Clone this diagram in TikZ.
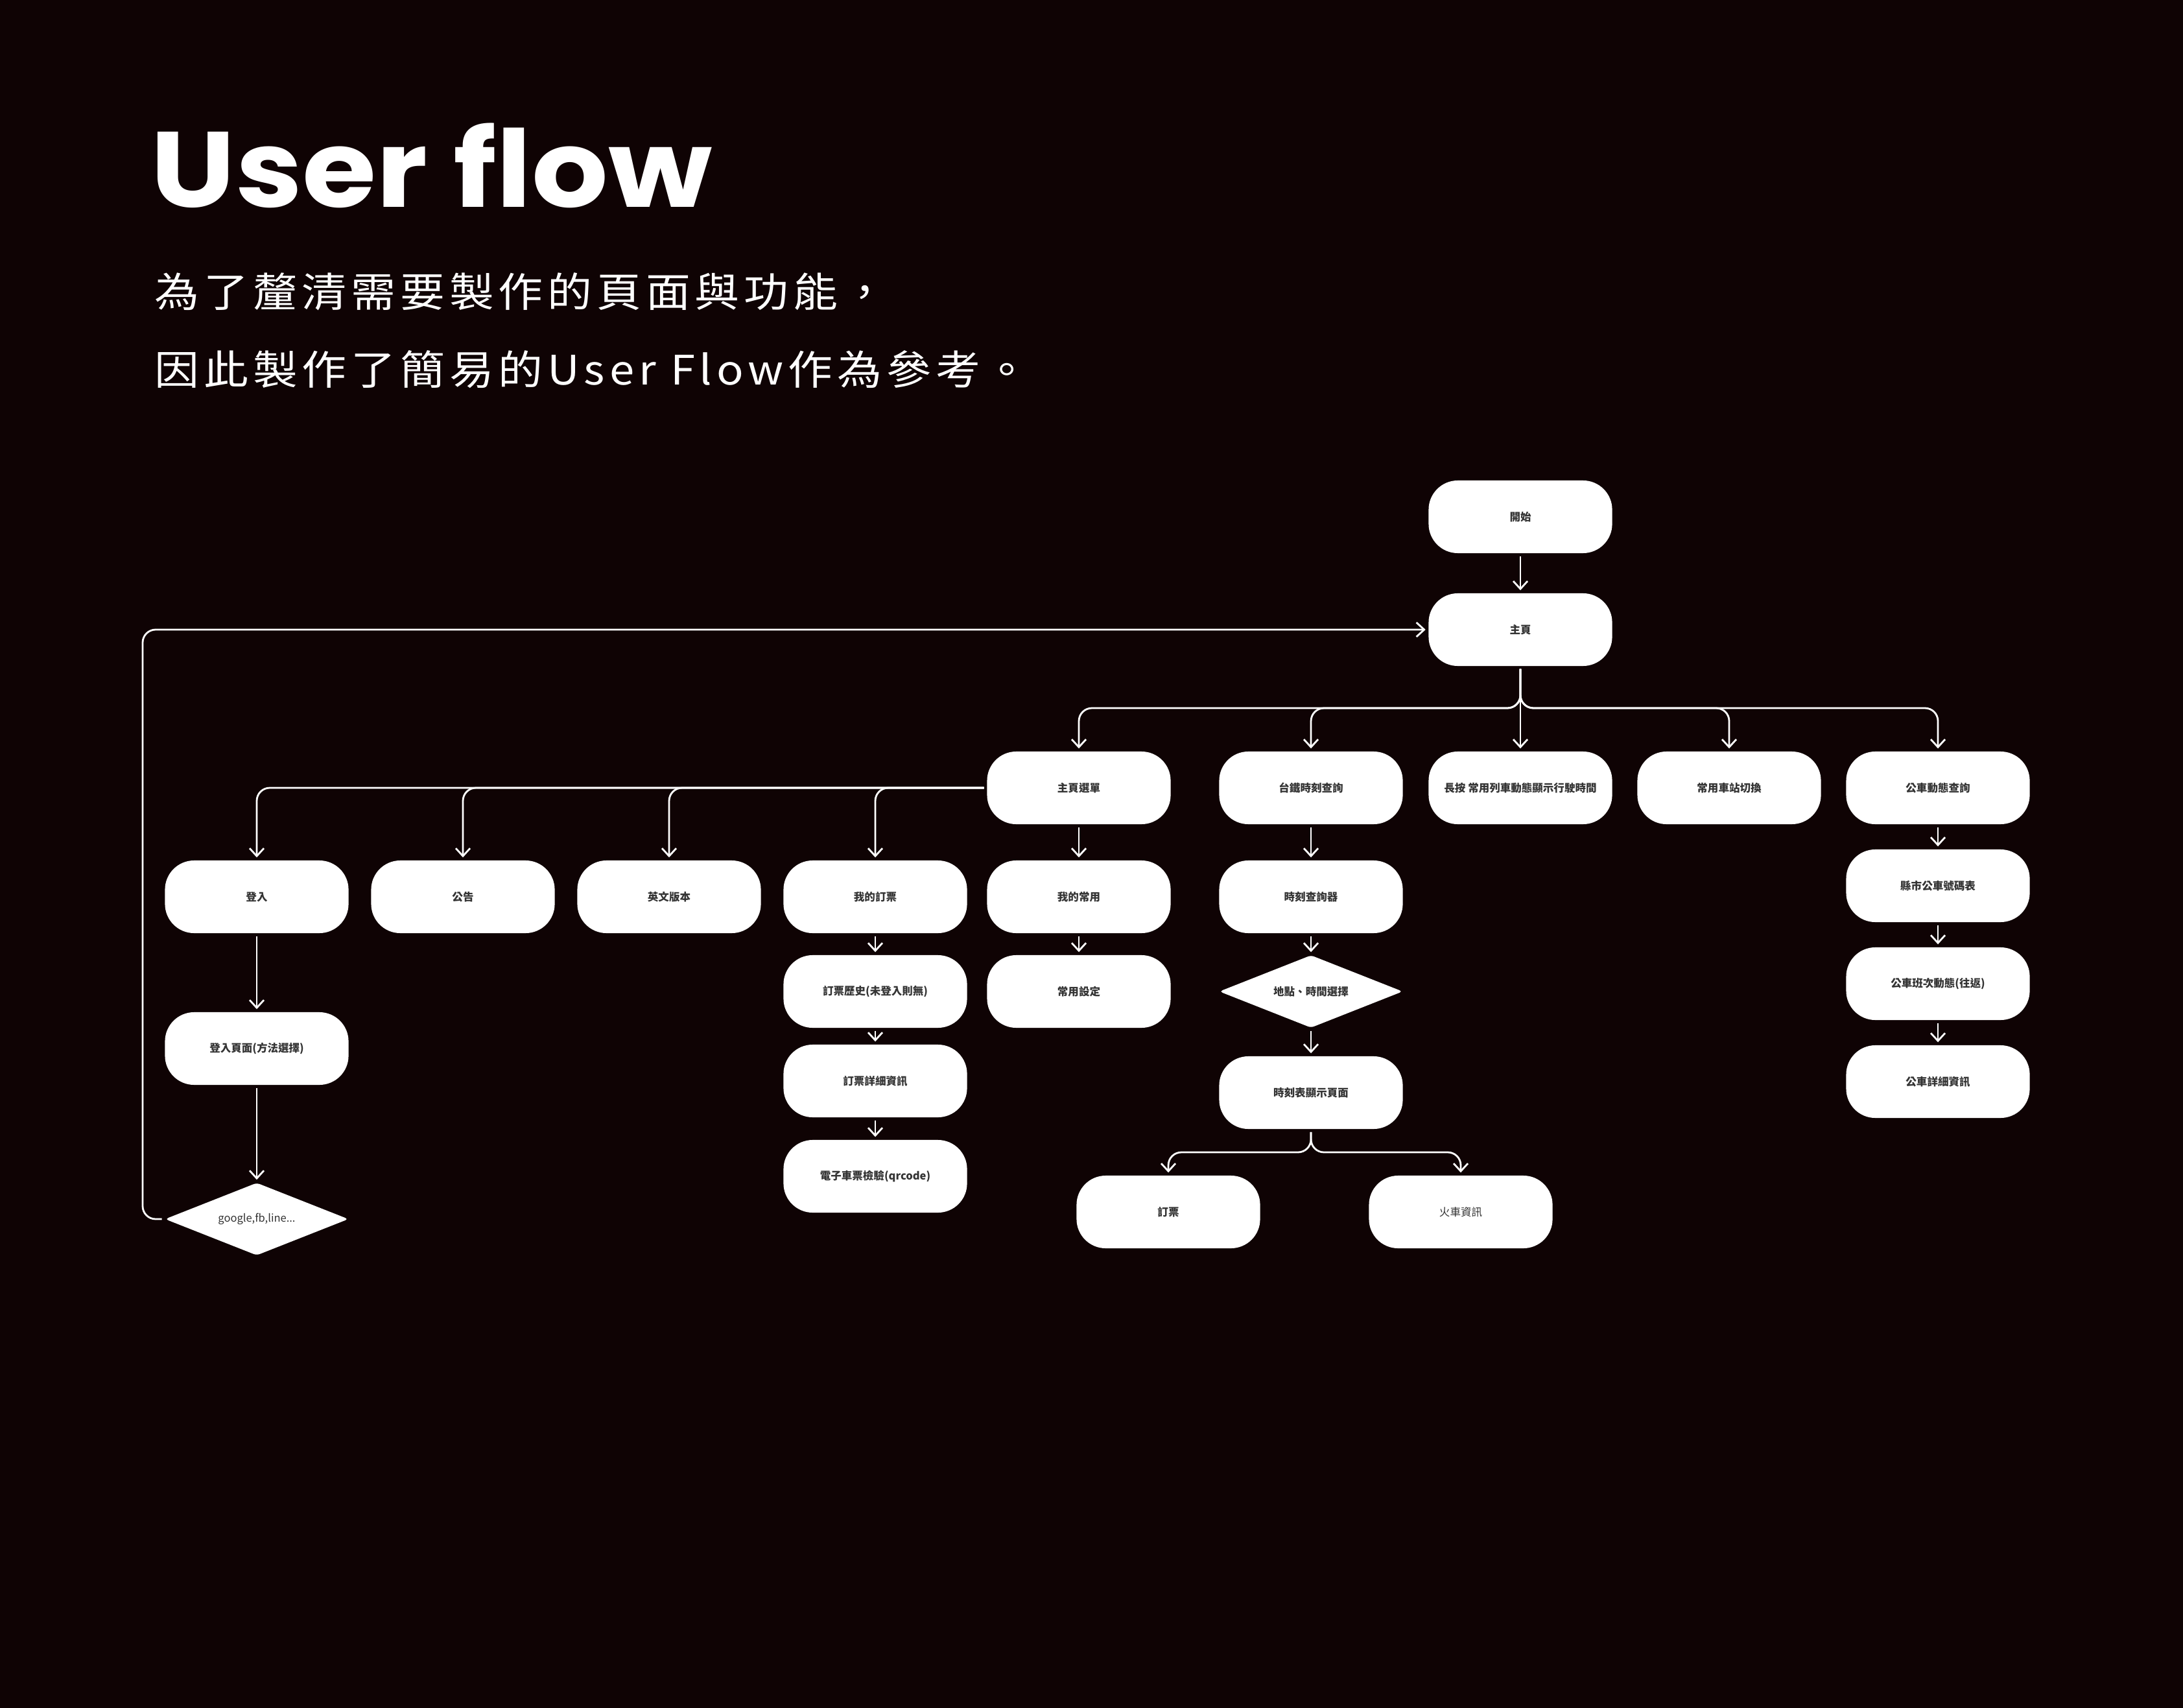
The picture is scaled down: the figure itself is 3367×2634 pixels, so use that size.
\documentclass[tikz,border=0pt]{standalone}
\usepackage{fontspec}
\setmainfont{Noto Sans CJK TC}
\newfontfamily\titlefont{Poppins}
\newfontfamily\subfont{Noto Sans CJK TC}[LetterSpace=10]
\usetikzlibrary{arrows.meta,shapes.geometric}
\definecolor{bgdark}{RGB}{15,3,4}
\definecolor{boxtext}{RGB}{52,52,52}

\begin{document}
\begin{tikzpicture}[x=0.01cm,y=-0.01cm]
\tikzstyle{main}=[rectangle, rounded corners=0.45cm, fill=white, minimum width=2.83cm, minimum height=1.12cm, inner sep=0pt, text=boxtext, font=\bfseries\fontsize{4.7}{5}\selectfont]
\tikzstyle{choice}=[diamond, rounded corners=0.05cm, fill=white, minimum width=2.83cm, minimum height=1.12cm, inner sep=0pt, aspect=2.5, text=boxtext, font=\bfseries\fontsize{4.7}{5}\selectfont]
\tikzstyle{plain}=[font=\fontsize{4.7}{5}\selectfont]
\tikzstyle{connect}=[-{Straight Barb[length=0.12cm,width=0.22cm]}, white, line width=0.028cm, rounded corners=0.2cm, shorten >=0.04cm, shorten <=0.04cm]
\tikzstyle{heading}=[anchor=west, inner sep=0pt, text=white, font=\subfont\fontsize{17.8}{20}\selectfont]
  \fill[bgdark] (0,0) rectangle (3367,2634);
  \useasboundingbox (0,0) rectangle (3367,2634);
  % title
  \node[anchor=base west, inner sep=0pt, text=white, font=\titlefont\bfseries\fontsize{47}{47}\selectfont] (title) at (232,320) {\scalebox{1.12}[1]{User flow}};
  \node[heading] (sub1) at (238,450) {\scalebox{1.1}[1]{為了釐清需要製作的頁面與功能，}};
  \node[heading] (sub2) at (238,570) {\scalebox{1.1}[1]{因此製作了簡易的User Flow作為參考。}};
  % top
  \node[main] (start) at (2345,797) {開始};
  \node[main] (home) at (2345,971) {主頁};
  % second row
  \node[main] (menu) at (1664,1215) {主頁選單};
  \node[main] (rail) at (2022,1215) {台鐵時刻查詢};
  \node[main] (hold) at (2345,1215) {長按 常用列車動態顯示行駛時間};
  \node[main] (station) at (2667,1215) {常用車站切換};
  \node[main] (bus) at (2989,1215) {公車動態查詢};
  % third row
  \node[main] (login) at (396,1383) {登入};
  \node[main] (notice) at (714,1383) {公告};
  \node[main] (english) at (1032,1383) {英文版本};
  \node[main] (myticket) at (1350,1383) {我的訂票};
  \node[main] (myfav) at (1664,1383) {我的常用};
  \node[main] (timeq) at (2022,1383) {時刻查詢器};
  \node[main] (buslist) at (2989,1366) {縣市公車號碼表};
  \node[main] (busrun) at (2989,1517) {公車班次動態(往返)};
  \node[main] (businfo) at (2989,1668) {公車詳細資訊};
  \node[main] (history) at (1350,1529) {訂票歷史(未登入則無)};
  \node[main] (detail) at (1350,1667) {訂票詳細資訊};
  \node[main] (eticket) at (1350,1814) {電子車票檢驗(qrcode)};
  \node[main] (favset) at (1664,1529) {常用設定};
  \node[choice] (pick) at (2022,1529) {地點、時間選擇};
  \node[main] (tshow) at (2022,1685) {時刻表顯示頁面};
  \node[main] (book) at (1802,1869) {訂票};
  \node[main, plain] (train) at (2253,1869) {火車資訊};
  \node[main] (loginpage) at (396,1617) {登入頁面(方法選擇)};
  \node[choice, plain] (method) at (396,1880) {google,fb,line...};
  \coordinate (hsplit) at (2345,1092);
  \coordinate (tsplit) at (2022,1777);
  \coordinate (back) at (220,1880);
  \path (start) edge [connect] (home)
        (home) edge [connect] (hold)
        (menu) edge [connect] (myfav)
        (myfav) edge [connect] (favset)
        (rail) edge [connect] (timeq)
        (timeq) edge [connect] (pick)
        (pick) edge [connect] (tshow)
        (bus) edge [connect] (buslist)
        (buslist) edge [connect] (busrun)
        (busrun) edge [connect] (businfo)
        (myticket) edge [connect] (history)
        (history) edge [connect] (detail)
        (detail) edge [connect] (eticket)
        (login) edge [connect] (loginpage)
        (loginpage) edge [connect] (method);
  \draw[connect] (home.south) -- (hsplit) -| (menu.north);
  \draw[connect] (home.south) -- (hsplit) -| (rail.north);
  \draw[connect] (home.south) -- (hsplit) -| (station.north);
  \draw[connect] (home.south) -- (hsplit) -| (bus.north);
  \draw[connect] (menu.west) -| (login.north);
  \draw[connect] (menu.west) -| (notice.north);
  \draw[connect] (menu.west) -| (english.north);
  \draw[connect] (menu.west) -| (myticket.north);
  \draw[connect] (tshow.south) -- (tsplit) -| (book.north);
  \draw[connect] (tshow.south) -- (tsplit) -| (train.north);
  \draw[connect] (method.west) -- (back) |- (home.west);
\end{tikzpicture}
\end{document}
